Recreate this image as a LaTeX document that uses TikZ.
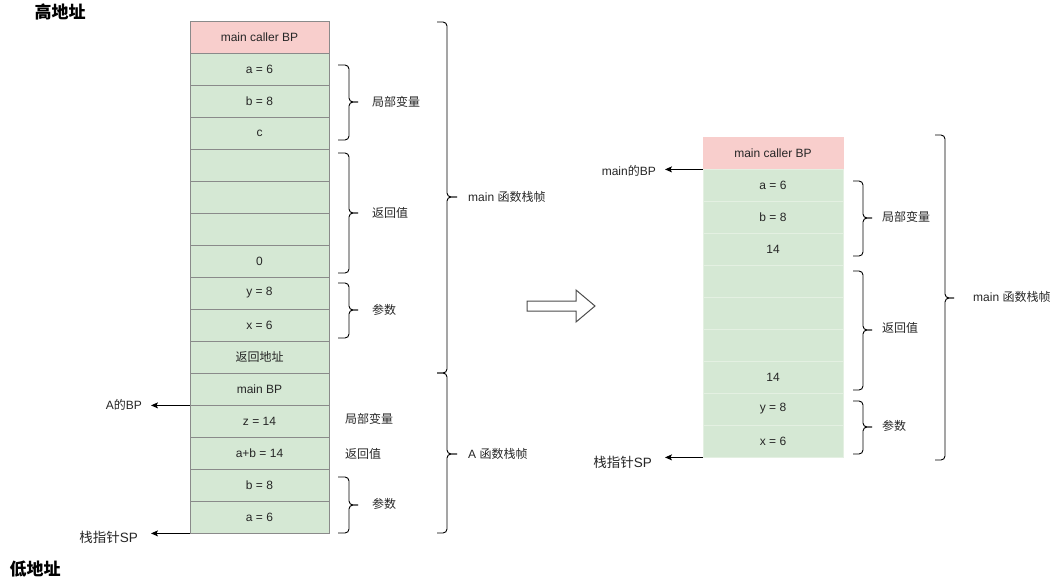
\documentclass[tikz,border=0pt]{standalone}
\usepackage{fontspec}
\setmainfont{Liberation Sans}
\newfontfamily\cjk{Noto Sans CJK SC}
\usetikzlibrary{arrows.meta}
\definecolor{pinkfill}{HTML}{F8CECC}
\definecolor{greenfill}{HTML}{D5E8D4}
\definecolor{lineL}{HTML}{8A8A8A}
\definecolor{lineR}{HTML}{E4F0E2}
\newcommand\mybrace[6]{%
  \draw[brc] (#1,#4) -- (#2,#4) -- (#2,#5) -- (#3,#5);
  \draw[brc] (#1,#6) -- (#2,#6) -- (#2,#5) -- (#3,#5);}
\begin{document}
\begin{tikzpicture}[x=1pt,y=-1pt,
  every node/.style={font=\fontsize{12}{14}\selectfont, text=black!85},
  cellL/.style={draw=lineL, line width=0.8pt, fill=greenfill, minimum width=139pt, minimum height=32pt, inner sep=0pt},
  cellR/.style={draw=lineR, line width=0.8pt, fill=greenfill, minimum width=140pt, minimum height=32pt, inner sep=0pt},
  pinkL/.style={cellL, fill=pinkfill},
  pinkR/.style={cellR, fill=pinkfill, draw=pinkfill},
  lbl/.style={anchor=west, inner sep=0pt},
  plbl/.style={anchor=east, inner ysep=0pt, inner xsep=9pt},
  splbl/.style={plbl, inner xsep=13pt, font=\fontsize{13.5}{15}\selectfont},
  title/.style={font=\cjk\bfseries\fontsize{17}{19}\selectfont, text=black, inner sep=0pt},
  brc/.style={line width=0.9pt, rounded corners=4pt},
  ptr/.style={line width=0.9pt, -{Stealth[length=7pt,width=6pt,inset=1.5pt]}}
]
\useasboundingbox (0,0) rectangle (1055,581);

% titles
\node[title] (hi) at (60,12) {高地址};
\node[title] (lo) at (35,569) {低地址};

% left stack
\node[pinkL] (l1) at (259.5,37) {main caller BP};
\node[cellL] (l2) at (259.5,69) {a = 6};
\node[cellL] (l3) at (259.5,101) {b = 8};
\node[cellL] (l4) at (259.5,133) {c};
\node[cellL] (l5) at (259.5,165) {};
\node[cellL] (l6) at (259.5,197) {};
\node[cellL] (l7) at (259.5,229) {};
\node[cellL] (l8) at (259.5,261) {0};
\node[cellL] (l9) at (259.5,293) {y = 8};
\node[cellL] (l10) at (259.5,325) {x = 6};
\node[cellL] (l11) at (259.5,357) {{\cjk 返回地址}};
\node[cellL] (l12) at (259.5,389) {main BP};
\node[cellL] (l13) at (259.5,421) {z = 14};
\node[cellL] (l14) at (259.5,453) {a+b = 14};
\node[cellL] (l15) at (259.5,485) {b = 8};
\node[cellL] (l16) at (259.5,517) {a = 6};

% left pointers
\node[plbl] (abp) at (151,405) {A{\cjk 的}BP};
\node[splbl] (spl) at (151,537) {{\cjk 栈指针}SP};
\draw[ptr] (l12.south west) -- (l12.south west -| abp.east);
\draw[ptr] (l16.south west) -- (l16.south west -| spl.east);

% left braces and labels
\mybrace{338}{349}{358}{65}{102}{140}
\node[lbl] (lv1) at (372,102) {\cjk 局部变量};
\mybrace{338}{349}{358}{153}{213}{273}
\node[lbl] (rv1) at (372,213) {\cjk 返回值};
\mybrace{338}{349}{358}{283}{310}{338}
\node[lbl] (pa1) at (372,310) {\cjk 参数};
\node[lbl] (lv2) at (345,419) {\cjk 局部变量};
\node[lbl] (rv2) at (345,454) {\cjk 返回值};
\mybrace{338}{349}{358}{477}{505}{533}
\node[lbl] (pa2) at (372,504) {\cjk 参数};
\mybrace{437}{447}{457}{22}{197}{373}
\node[lbl] (mf1) at (468,197) {main {\cjk 函数栈帧}};
\mybrace{437}{447}{457}{373}{454}{533}
\node[lbl] (af) at (468,454) {A {\cjk 函数栈帧}};

% middle block arrow
\draw[line width=1pt, draw=black!70, fill=white] (527,301) -- (576,301) -- (576,290) -- (595,306) -- (576,322) -- (576,311) -- (527,311) -- cycle;

% right stack
\node[pinkR] (r1) at (773,153) {main caller BP};
\node[cellR] (r2) at (773,185) {a = 6};
\node[cellR] (r3) at (773,217) {b = 8};
\node[cellR] (r4) at (773,249) {14};
\node[cellR] (r5) at (773,281) {};
\node[cellR] (r6) at (773,313) {};
\node[cellR] (r7) at (773,345) {};
\node[cellR] (r8) at (773,377) {14};
\node[cellR] (r9) at (773,409) {y = 8};
\node[cellR] (r10) at (773,441) {x = 6};

% right pointers
\node[plbl] (mbp) at (665,171) {main{\cjk 的}BP};
\node[splbl] (spr) at (665,462) {{\cjk 栈指针}SP};
\draw[ptr] (r1.south west) -- (r1.south west -| mbp.east);
\draw[ptr] (r10.south west) -- (r10.south west -| spr.east);

% right braces and labels
\mybrace{853}{863}{872}{181}{218}{256}
\node[lbl] (lv3) at (882,217) {\cjk 局部变量};
\mybrace{853}{863}{872}{271}{330}{390}
\node[lbl] (rv3) at (882,328) {\cjk 返回值};
\mybrace{853}{863}{872}{401}{427}{454}
\node[lbl] (pa3) at (882,426) {\cjk 参数};
\mybrace{935}{945}{954}{135}{298}{460}
\node[lbl] (mf2) at (973,297) {main {\cjk 函数栈帧}};
\end{tikzpicture}
\end{document}
